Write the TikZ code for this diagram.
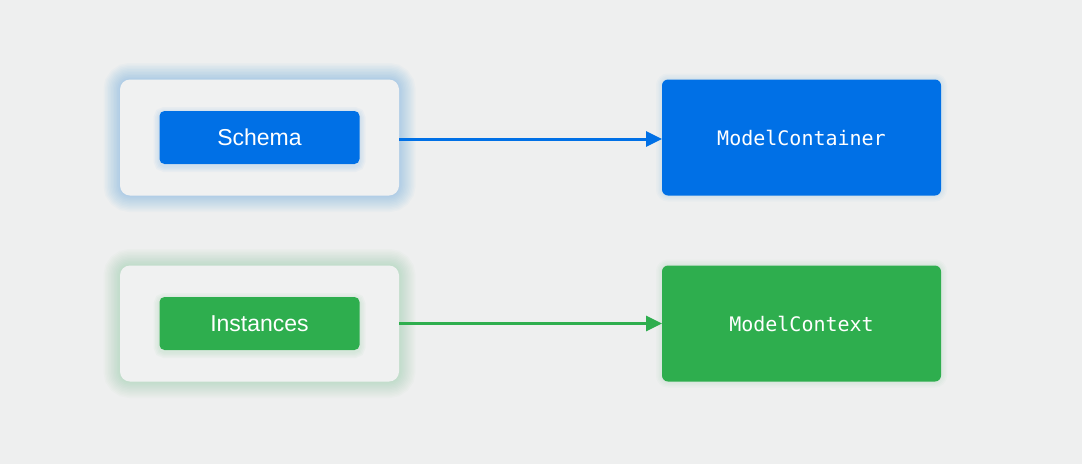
\documentclass[tikz,border=0pt]{standalone}
\usepackage{fontspec}
\newfontfamily\boxfont{Liberation Sans}
\newfontfamily\codefont{DejaVu Sans Mono}
\definecolor{myblue}{RGB}{0, 112, 230}
\definecolor{mygreen}{RGB}{46, 174, 78}
\definecolor{mybg}{RGB}{238, 239, 239}
\definecolor{myframe}{RGB}{240, 241, 241}
\usetikzlibrary{arrows.meta, positioning}
\pgfdeclarelayer{base}
\pgfdeclarelayer{glow}
\pgfdeclarelayer{frames}
\pgfdeclarelayer{shade}
\pgfsetlayers{base, glow, frames, shade, main}

\begin{document}
\begin{tikzpicture}[x = 1pt, y = -1pt,
	frame/.style = {rounded corners = 10pt, fill = myframe, outer sep = 0pt, minimum width = 279pt, minimum height = 116pt},
	inner/.style = {rounded corners = 5pt, text = white, outer sep = 0pt, minimum width = 200pt, minimum height = 53pt, font = \boxfont\fontsize{23}{27}\selectfont},
	target/.style = {rounded corners = 6pt, text = white, outer sep = 0pt, minimum width = 279pt, minimum height = 116pt, font = \codefont\fontsize{20}{24}\selectfont},
	link/.style = {line width = 3pt, -{Triangle[length = 16pt, width = 15pt]}}]
	\begin{pgfonlayer}{base}
		\fill[mybg] (0,0) rectangle (1082,464);
	\end{pgfonlayer}
	\useasboundingbox (0,0) rectangle (1082,464);

	\begin{pgfonlayer}{frames}
		\node[frame] (schemaframe) at (259.5, 137.5) {};
		\node[frame] (instanceframe) at (259.5, 323.5) {};
	\end{pgfonlayer}
	\node[inner, fill = myblue] (schema) at (schemaframe) {Schema};
	\node[inner, fill = mygreen] (instances) at (instanceframe) {Instances};
	\node[target, fill = myblue, right = 263pt of schemaframe] (container) {ModelContainer};
	\node[target, fill = mygreen, right = 263pt of instanceframe] (context) {ModelContext};

	% soft halos
	\begin{pgfonlayer}{glow}
		\foreach \w in {3, 6, ..., 33} {
			\draw[myblue, opacity = 0.022, line width = \w pt, rounded corners = 10pt] (schemaframe.north west) rectangle (schemaframe.south east);
			\draw[mygreen, opacity = 0.018, line width = \w pt, rounded corners = 10pt] (instanceframe.north west) rectangle (instanceframe.south east);
		}
		\foreach \w in {3, 6, 9, 12} {
			\draw[myblue, opacity = 0.025, line width = \w pt, rounded corners = 6pt] (container.north west) rectangle (container.south east);
			\draw[mygreen, opacity = 0.025, line width = \w pt, rounded corners = 6pt] (context.north west) rectangle (context.south east);
		}
	\end{pgfonlayer}
	\begin{pgfonlayer}{shade}
		\foreach \w in {3, 6, 9, 12} {
			\draw[myblue, opacity = 0.03, line width = \w pt, rounded corners = 5pt] ([yshift = -2pt] schema.north west) rectangle ([yshift = -2pt] schema.south east);
			\draw[mygreen, opacity = 0.03, line width = \w pt, rounded corners = 5pt] ([yshift = -2pt] instances.north west) rectangle ([yshift = -2pt] instances.south east);
		}
	\end{pgfonlayer}

	\draw[link, myblue] ([yshift = -1.5pt] schemaframe.east) -- ([yshift = -1.5pt] container.west);
	\draw[link, mygreen] (instanceframe.east) -- (context.west);
\end{tikzpicture}
\end{document}
